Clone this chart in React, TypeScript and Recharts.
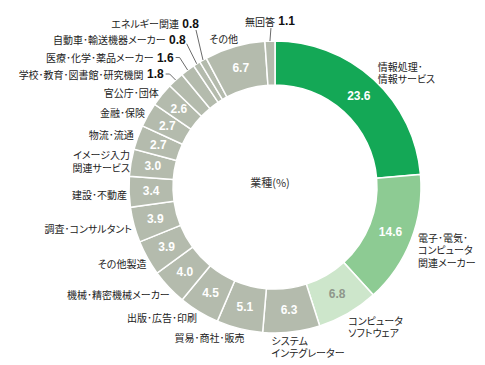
import React from "react";
import { PieChart, Pie, Cell } from "recharts";

const categories = [
  "情報処理･\n情報サービス",
  "電子･電気･\nコンピュータ\n関連メーカー",
  "コンピュータ\nソフトウェア",
  "システム\nインテグレーター",
  "貿易･商社･販売",
  "出版･広告･印刷",
  "機械･精密機械メーカー",
  "その他製造",
  "調査･コンサルタント",
  "建設･不動産",
  "イメージ入力\n関連サービス",
  "物流･流通",
  "金融･保険",
  "官公庁･団体",
  "学校･教育･図書館･研究機関",
  "医療･化学･薬品メーカー",
  "自動車･輸送機器メーカー",
  "エネルギー関連",
  "その他",
  "無回答",
];

const values = [23.6, 14.6, 6.8, 6.3, 5.1, 4.5, 4.0, 3.9, 3.9, 3.4, 3.0, 2.7, 2.7, 2.6, 1.8, 1.6, 0.8, 0.8, 6.7, 1.1];

const centerTitle = "業種(%)";

const sliceColors = [
  "#14a856", "#8dcb93", "#cde6cb",
  "#b4bbad", "#b4bbad", "#b4bbad", "#b4bbad", "#b4bbad", "#b4bbad", "#b4bbad",
  "#b4bbad", "#b4bbad", "#b4bbad", "#b4bbad", "#b4bbad", "#b4bbad", "#b4bbad",
  "#b4bbad", "#b4bbad", "#b4bbad",
];

type Layout = {
  anchor: "start" | "end" | "middle";
  dx: number;
  dy: number;
  numInText?: boolean;
  lead?: [number, number];
};

// label placement relative to the outer point at each slice's mid angle
const labelLayout: Layout[] = [
  { anchor: "start", dx: 4, dy: -13 },
  { anchor: "start", dx: 7, dy: -3 },
  { anchor: "start", dx: 0, dy: 7 },
  { anchor: "start", dx: -20, dy: 8 },
  { anchor: "end", dx: 5, dy: 9 },
  { anchor: "end", dx: -2, dy: 6 },
  { anchor: "end", dx: 1, dy: 7 },
  { anchor: "end", dx: -1, dy: 5.5 },
  { anchor: "end", dx: -2, dy: 3.5 },
  { anchor: "end", dx: -2, dy: 2.5 },
  { anchor: "end", dx: -1, dy: -8 },
  { anchor: "end", dx: -4, dy: -3 },
  { anchor: "end", dx: -3, dy: -2.5 },
  { anchor: "end", dx: -3, dy: -2 },
  { anchor: "end", dx: -12, dy: -6, numInText: true, lead: [2, 0] },
  { anchor: "end", dx: -14, dy: -12.5, numInText: true, lead: [2, 0] },
  { anchor: "end", dx: -11, dy: -24, numInText: true, lead: [1, 4] },
  { anchor: "end", dx: -4, dy: -36, numInText: true, lead: [-3, 6] },
  { anchor: "middle", dx: -11, dy: -8 },
  { anchor: "middle", dx: 0, dy: -20, numInText: true, lead: [1, 7] },
];

const data = categories.map((name, i) => ({ name, value: values[i] }));

const RADIAN = Math.PI / 180;
const JP = "'Noto Sans CJK JP', sans-serif";
const NUM = "'Liberation Sans', Arial, sans-serif";
const LINE_GAP = 12.5;

function renderLabel(props: any) {
  const { cx, cy, midAngle, innerRadius, outerRadius, index } = props;
  const cos = Math.cos(-midAngle * RADIAN);
  const sin = Math.sin(-midAngle * RADIAN);
  const rm = (innerRadius + outerRadius) / 2;
  const vx = cx + rm * cos;
  const vy = cy + rm * sin;
  const px = cx + outerRadius * cos;
  const py = cy + outerRadius * sin;
  const lay = labelLayout[index];
  const tx = px + lay.dx;
  const ty = py + lay.dy;
  const lines = categories[index].split("\n");
  const v = values[index];
  const valueText = v.toFixed(1);
  return (
    <g key={`lbl-${index}`}>
      {!lay.numInText && (
        <text
          x={vx}
          y={vy}
          textAnchor="middle"
          dominantBaseline="central"
          fontFamily={NUM}
          fontWeight="bold"
          fontSize={12}
          fill={index === 2 ? "#8f978b" : "#ffffff"}
        >
          {valueText}
        </text>
      )}
      {lines.map((ln, k) => (
        <text
          key={k}
          x={tx}
          y={ty + k * LINE_GAP}
          textAnchor={lay.anchor}
          dominantBaseline="central"
          fontFamily={JP}
          fontSize={10}
          fill="#222"
          style={{ fontFeatureSettings: "'palt'" }}
        >
          {ln}
          {lay.numInText && (
            <tspan fontFamily={NUM} fontWeight="bold" fontSize={12} fill="#111">
              {" " + valueText}
            </tspan>
          )}
        </text>
      ))}
      {lay.lead && (
        <polyline
          points={`${tx + lay.lead[0]},${ty + lay.lead[1]} ${tx + lay.lead[0] + (lay.anchor === "end" && lay.lead[1] === 0 ? 4 : 0)},${ty + lay.lead[1]} ${px},${py}`}
          fill="none"
          stroke="#444"
          strokeWidth={0.8}
        />
      )}
    </g>
  );
}

export default function App() {
  return (
    <div style={{ position: "absolute", left: 0, top: 0, background: "#fff" }}>
      <PieChart width={485} height={365}>
        <Pie
          data={data}
          dataKey="value"
          nameKey="name"
          cx={270}
          cy={182}
          innerRadius={102}
          outerRadius={146}
          startAngle={90}
          endAngle={-270}
          stroke="#ffffff"
          strokeWidth={1.5}
          label={renderLabel}
          labelLine={false}
          isAnimationActive={false}
        >
          {data.map((d, i) => (
            <Cell key={d.name} fill={sliceColors[i]} />
          ))}
        </Pie>
        <text
          x={270}
          y={182}
          textAnchor="middle"
          dominantBaseline="central"
          fontFamily={JP}
          fontSize={11}
          fill="#333"
        >
          {centerTitle}
        </text>
      </PieChart>
    </div>
  );
}
